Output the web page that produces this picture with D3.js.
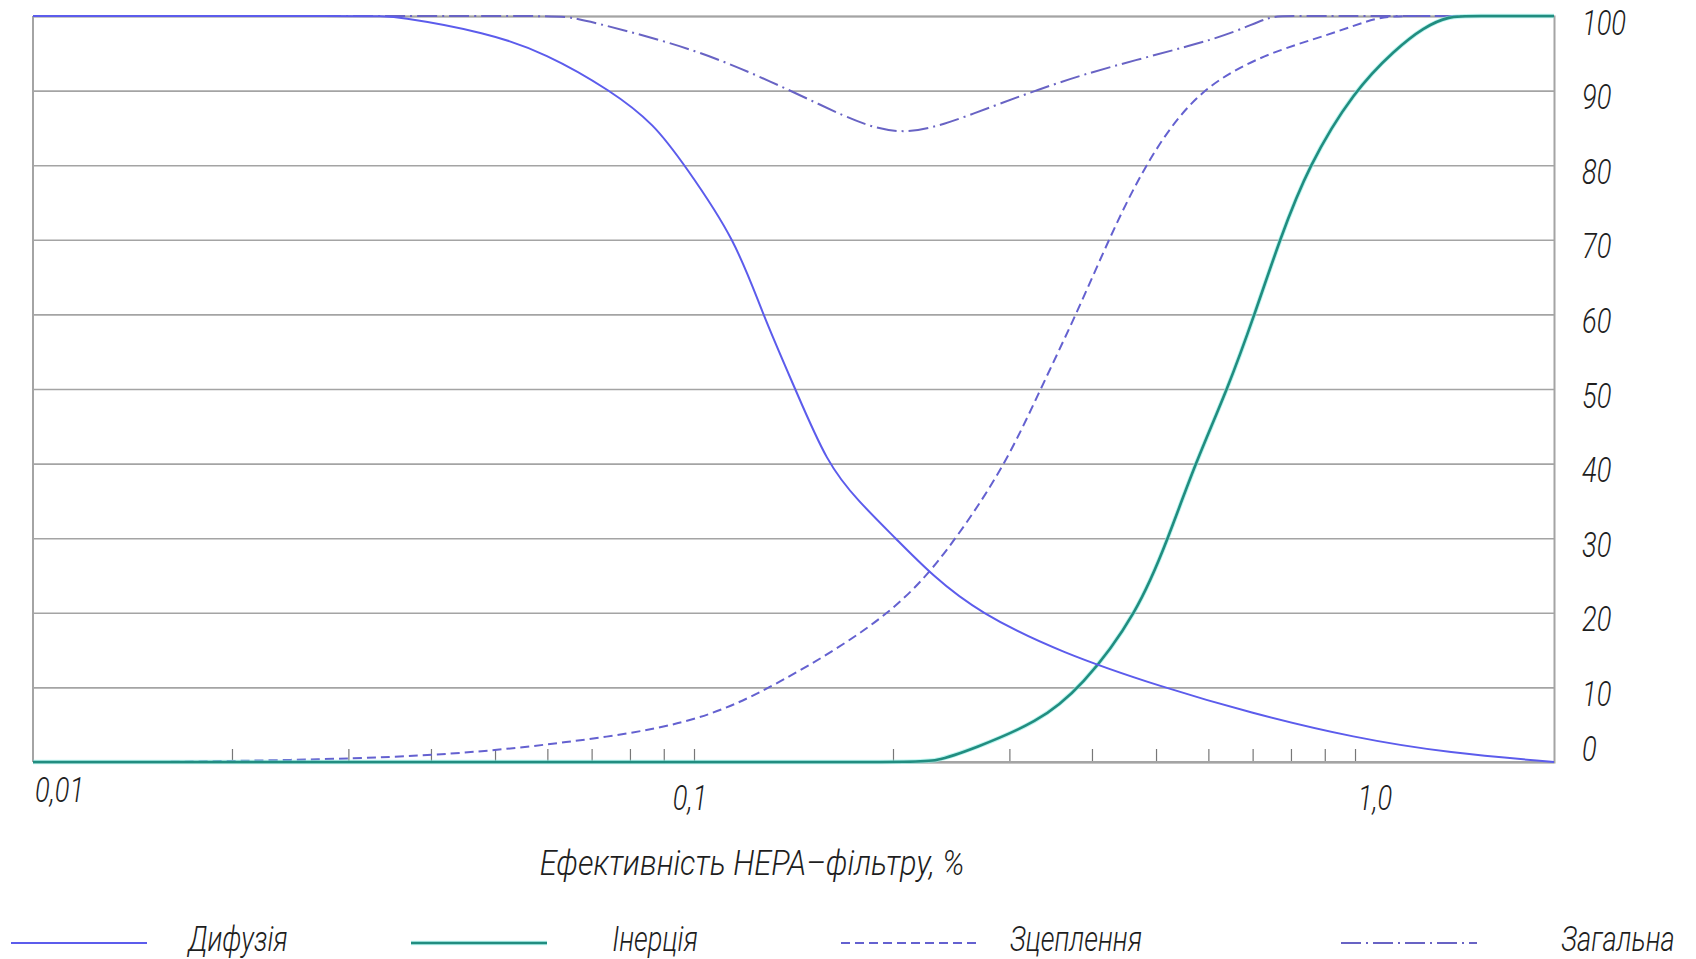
<!DOCTYPE html>
<html>
<head>
<meta charset="utf-8">
<script src="https://cdn.jsdelivr.net/npm/d3@7"></script>
<style>
  html, body { margin: 0; padding: 0; background: #ffffff; }
  svg text {
    font-family: Roboto, "Open Sans", "DejaVu Sans", sans-serif;
    font-style: italic;
    font-weight: 300;
    fill: #1e1e1e;
  }
</style>
</head>
<body>
<svg id="chart" width="1696" height="959"></svg>
<script>
// Particle size (%), efficiency of each capture mechanism (%)
const diffusionX = [0.01, 0.033, 0.0353, 0.0486, 0.0597, 0.0749, 0.0871, 0.0968, 0.1156, 0.127, 0.1423, 0.159, 0.177, 0.2018, 0.2293, 0.27, 0.36, 0.512, 0.693, 1.0, 1.39, 2.0];
const diffusionY = [100, 100, 100, 97.8, 95.0, 90.0, 85.5, 80.0, 70.0, 60.0, 50.0, 40.0, 35.0, 30.0, 25.0, 20.0, 14.6, 10.0, 6.6, 3.2, 1.2, 0];

const inertiaX = [0.01, 0.21, 0.232, 0.265, 0.331, 0.386, 0.469, 0.5216, 0.573, 0.6416, 0.705, 0.769, 0.851, 0.997, 1.15, 1.27, 1.389, 1.5, 2.0];
const inertiaY = [0, 0, 0, 1.8, 5.3, 10.0, 20.0, 30.0, 40.0, 50.0, 60.0, 70.0, 80.0, 90.0, 95.5, 98.5, 100, 100, 100];

const interceptX = [0.01539, 0.0276, 0.0434, 0.0632, 0.0994, 0.1318, 0.2033, 0.25, 0.2965, 0.3344, 0.3787, 0.4238, 0.48, 0.573, 0.732, 0.918, 1.087, 1.2, 2.0];
const interceptY = [0, 0.3, 1.0, 2.5, 5.0, 10.0, 20.0, 30.0, 40.0, 50.0, 60.0, 70.0, 80.0, 90.0, 95.0, 97.5, 100, 100, 100];

const totalX = [0.01, 0.061, 0.0644, 0.0794, 0.1007, 0.1245, 0.156, 0.1815, 0.207, 0.237, 0.285, 0.331, 0.386, 0.466, 0.563, 0.653, 0.746, 0.78, 2.0];
const totalY = [100, 100, 100, 98.0, 95.4, 92.1, 88.0, 85.3, 84.2, 85.3, 88.0, 90.1, 92.1, 94.1, 96.0, 97.7, 100, 100, 100];

const seriesNames = ["Дифузія", "Інерція", "Зцеплення", "Загальна"];

const yTickValues = [0, 10, 20, 30, 40, 50, 60, 70, 80, 90, 100];
const xMinorTicks = [0.02, 0.03, 0.04, 0.05, 0.06, 0.07, 0.08, 0.09, 0.1, 0.2, 0.3, 0.4, 0.5, 0.6, 0.7, 0.8, 0.9, 1.0];
const xTickLabels = ["0,01", "0,1", "1,0"];
const xTickLabelValues = [0.01, 0.1, 1.0];
const xAxisTitle = "Ефективність НЕРА–фільтру, %";

// ---- layout ----
const plot = { left: 33, right: 1554, top: 16, bottom: 762 };
const fontSize = 35;
const squeeze = 0.78;   // narrow drafting-style lettering
const svg = d3.select("#chart");

const x = d3.scaleLog().domain([0.01, 2]).range([plot.left, plot.right]);
const y = d3.scaleLinear().domain([0, 100]).range([plot.bottom, plot.top]);

const gridColor = "#a4a4a4";

function label(parent, tx, ty, str, anchor, sx) {
  return parent.append("text")
    .attr("transform", `translate(${tx},${ty}) scale(${sx || squeeze},1)`)
    .attr("text-anchor", anchor || "start")
    .attr("font-size", fontSize)
    .text(str);
}

// horizontal grid lines
const yAxis = d3.axisRight(y)
  .tickValues(yTickValues)
  .tickSize(-(plot.right - plot.left))
  .tickFormat("");
svg.append("g")
  .attr("transform", `translate(${plot.right},0)`)
  .call(yAxis)
  .call(g => g.select(".domain").attr("stroke", gridColor).attr("stroke-width", 2))
  .call(g => g.selectAll(".tick line").attr("stroke", gridColor).attr("stroke-width", 1.6));

// left frame
svg.append("line")
  .attr("x1", plot.left).attr("x2", plot.left)
  .attr("y1", plot.top).attr("y2", plot.bottom)
  .attr("stroke", gridColor).attr("stroke-width", 2);

// right-side value labels (the zero label is kept above the baseline)
const yLabels = svg.append("g");
yTickValues.forEach(v => {
  const cy = Math.min(y(v) + 6, plot.bottom - 14);
  label(yLabels, plot.right + 28, cy + fontSize * 0.36, v);
});

// bottom axis with upward minor ticks
const xAxis = d3.axisTop(x)
  .tickValues(xMinorTicks)
  .tickSize(13)
  .tickFormat("");
svg.append("g")
  .attr("transform", `translate(0,${plot.bottom})`)
  .call(xAxis)
  .call(g => g.select(".domain").remove())
  .call(g => g.selectAll(".tick line").attr("stroke", "#777").attr("stroke-width", 1.2));

svg.append("line")
  .attr("x1", plot.left).attr("x2", plot.right)
  .attr("y1", plot.bottom).attr("y2", plot.bottom)
  .attr("stroke", gridColor).attr("stroke-width", 2);

// x labels: the first sits at the frame corner, the rest below their ticks
const xLabels = svg.append("g");
xTickLabels.forEach((t, i) => {
  const px = x(xTickLabelValues[i]);
  if (i === 0) label(xLabels, px + 2, 802, t, "start");
  else label(xLabels, px + (i === 2 ? 20 : -4), 810, t, "middle");
});

label(svg, 752, 875, xAxisTitle, "middle", 0.88);

// ---- curves ----
const line = d3.line()
  .x(d => x(d[0]))
  .y(d => y(d[1]))
  .curve(d3.curveBasis);

const zip = (xs, ys) => xs.map((v, i) => [v, ys[i]]);

const styles = [
  { color: "#5c5cec", dash: null, width: 2 },
  { color: "#218d80", dash: null, width: 2.6, halo: "#8ff0e6" },
  { color: "#6461d0", dash: "9,5", width: 2 },
  { color: "#6863c4", dash: "20,5,2,5", width: 2 }
];

const seriesData = [
  zip(diffusionX, diffusionY),
  zip(inertiaX, inertiaY),
  zip(interceptX, interceptY),
  zip(totalX, totalY)
];

[3, 2, 1, 0].forEach(i => {
  const s = styles[i];
  if (s.halo) {
    svg.append("path")
      .attr("d", line(seriesData[i]))
      .attr("fill", "none")
      .attr("stroke", s.halo)
      .attr("stroke-opacity", 0.6)
      .attr("stroke-width", 4.5);
  }
  svg.append("path")
    .attr("d", line(seriesData[i]))
    .attr("fill", "none")
    .attr("stroke", s.color)
    .attr("stroke-width", s.width)
    .attr("stroke-dasharray", s.dash);
});

// ---- legend ----
const legendLayout = [
  { lx: 11, tx: 238 },
  { lx: 411, tx: 655 },
  { lx: 841, tx: 1076 },
  { lx: 1341, tx: 1618 }
];
const legendY = 943;
const legend = svg.append("g");
seriesNames.forEach((name, i) => {
  const s = styles[i];
  const L = legendLayout[i];
  if (s.halo) {
    legend.append("line")
      .attr("x1", L.lx).attr("x2", L.lx + 136)
      .attr("y1", legendY).attr("y2", legendY)
      .attr("stroke", s.halo).attr("stroke-opacity", 0.6).attr("stroke-width", 4.5);
  }
  legend.append("line")
    .attr("x1", L.lx).attr("x2", L.lx + 136)
    .attr("y1", legendY).attr("y2", legendY)
    .attr("stroke", s.color)
    .attr("stroke-width", s.width)
    .attr("stroke-dasharray", s.dash);
  label(legend, L.tx, legendY + 8, name, "middle");
});
</script>
</body>
</html>
